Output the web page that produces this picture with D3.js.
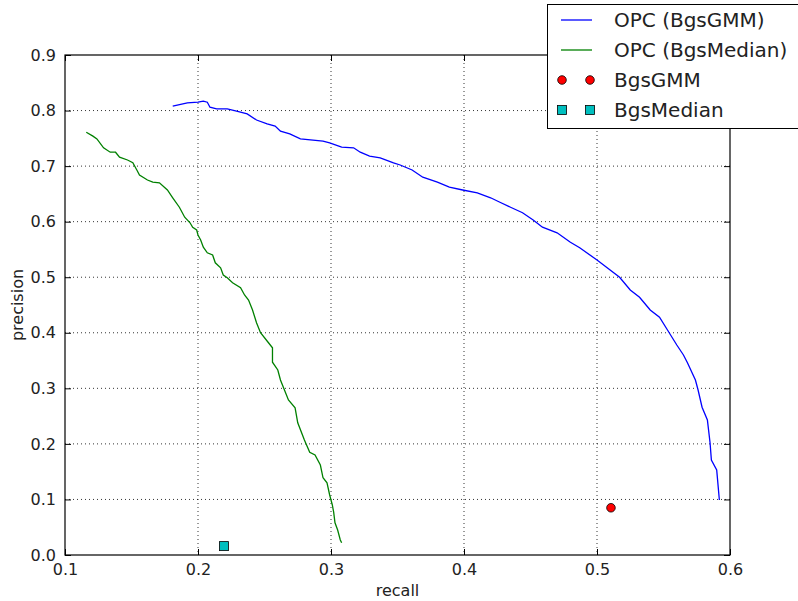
<!DOCTYPE html>
<html>
<head>
<meta charset="utf-8">
<script src="https://d3js.org/d3.v7.min.js"></script>
<style>
    body { margin: 0; background: #fff; }
    svg { font-family: "DejaVu Sans", sans-serif; }
</style>
</head>
<body>
<svg id="chart" width="798" height="601"></svg>
<script>
// OPC curve for BgsGMM  [recall, precision]
var gmmCurve = [
    [0.181, 0.808], [0.192, 0.814], [0.200, 0.815], [0.204, 0.817], [0.207, 0.815],
    [0.209, 0.806], [0.214, 0.803], [0.222, 0.803], [0.229, 0.799], [0.237, 0.794],
    [0.244, 0.783], [0.252, 0.776], [0.258, 0.772], [0.262, 0.763], [0.269, 0.758],
    [0.277, 0.749], [0.294, 0.745], [0.299, 0.742], [0.308, 0.734], [0.317, 0.733],
    [0.322, 0.725], [0.329, 0.718], [0.337, 0.715], [0.347, 0.706], [0.352, 0.702],
    [0.361, 0.693], [0.369, 0.680], [0.380, 0.671], [0.389, 0.662], [0.399, 0.657],
    [0.410, 0.652], [0.420, 0.643], [0.427, 0.635], [0.435, 0.626], [0.444, 0.616],
    [0.452, 0.603], [0.459, 0.590], [0.470, 0.580], [0.480, 0.563], [0.487, 0.553],
    [0.500, 0.531], [0.517, 0.500], [0.525, 0.477], [0.532, 0.464], [0.540, 0.441],
    [0.547, 0.428], [0.553, 0.405], [0.560, 0.378], [0.565, 0.360], [0.568, 0.346],
    [0.574, 0.315], [0.576, 0.297], [0.579, 0.266], [0.583, 0.243], [0.585, 0.202],
    [0.586, 0.171], [0.590, 0.153], [0.592, 0.099]
];

// OPC curve for BgsMedian
var medianCurve = [
    [0.116, 0.761], [0.121, 0.754], [0.124, 0.749], [0.129, 0.733], [0.134, 0.725],
    [0.138, 0.725], [0.141, 0.716], [0.147, 0.711], [0.151, 0.706], [0.154, 0.693],
    [0.156, 0.684], [0.162, 0.675], [0.166, 0.671], [0.171, 0.670], [0.177, 0.657],
    [0.181, 0.643], [0.186, 0.626], [0.190, 0.608], [0.194, 0.598], [0.196, 0.590],
    [0.199, 0.585], [0.200, 0.576], [0.202, 0.567], [0.204, 0.554], [0.207, 0.544],
    [0.211, 0.540], [0.213, 0.526], [0.217, 0.517], [0.219, 0.504], [0.222, 0.499],
    [0.226, 0.490], [0.232, 0.481], [0.235, 0.468], [0.238, 0.459], [0.241, 0.441],
    [0.244, 0.418], [0.247, 0.400], [0.253, 0.382], [0.256, 0.373], [0.256, 0.347],
    [0.260, 0.333], [0.262, 0.315], [0.265, 0.297], [0.268, 0.279], [0.273, 0.265],
    [0.275, 0.238], [0.280, 0.207], [0.284, 0.185], [0.288, 0.180], [0.292, 0.162],
    [0.294, 0.139], [0.297, 0.130], [0.299, 0.108], [0.301, 0.090], [0.302, 0.077],
    [0.303, 0.058], [0.305, 0.045], [0.307, 0.027], [0.308, 0.022]
];

// single operating points
var gmmPoint = [[0.5105, 0.085]];
var medianPoint = [[0.2195, 0.016]];

var xTicks = [0.1, 0.2, 0.3, 0.4, 0.5, 0.6];
var yTicks = [0.0, 0.1, 0.2, 0.3, 0.4, 0.5, 0.6, 0.7, 0.8, 0.9];

var legendLabels = ["OPC (BgsGMM)", "OPC (BgsMedian)", "BgsGMM", "BgsMedian"];

// plot box (note: "top" is taken by window.top)
var pLeft = 65, pRight = 730, pTop = 55, pBottom = 555;

var svg = d3.select("#chart");

var x = d3.scaleLinear().domain([0.1, 0.6]).range([pLeft, pRight]);
var y = d3.scaleLinear().domain([0, 0.9]).range([pBottom, pTop]);

// grid (dotted black)
var grid = svg.append("g");
grid.selectAll("line.gx")
    .data(xTicks.slice(1, -1))
    .enter()
    .append("line")
    .attr("x1", function (d) { return x(d); })
    .attr("x2", function (d) { return x(d); })
    .attr("y1", pTop).attr("y2", pBottom)
    .attr("stroke", "#000").attr("stroke-width", 0.8)
    .attr("stroke-dasharray", "1,3");
grid.selectAll("line.gy")
    .data(yTicks.slice(1, -1))
    .enter()
    .append("line")
    .attr("y1", function (d) { return y(d); })
    .attr("y2", function (d) { return y(d); })
    .attr("x1", pLeft).attr("x2", pRight)
    .attr("stroke", "#000").attr("stroke-width", 0.8)
    .attr("stroke-dasharray", "1,3");

// axes, ticks pointing inward on all four sides
function styleAxis(g) {
    g.select(".domain").remove();
    g.selectAll("line").attr("stroke", "#000");
    g.selectAll("text").attr("font-size", 16).attr("fill", "#222")
        .attr("font-family", "DejaVu Sans");
}
svg.append("g").attr("transform", "translate(0," + pBottom + ")")
    .call(d3.axisBottom(x).tickValues(xTicks).tickFormat(d3.format(".1f"))
        .tickSizeInner(-6).tickPadding(9))
    .call(styleAxis);
svg.append("g").attr("transform", "translate(0," + pTop + ")")
    .call(d3.axisTop(x).tickValues(xTicks).tickFormat("").tickSizeInner(-6))
    .call(styleAxis);
svg.append("g").attr("transform", "translate(" + pLeft + ",0)")
    .call(d3.axisLeft(y).tickValues(yTicks).tickFormat(d3.format(".1f"))
        .tickSizeInner(-6).tickPadding(9))
    .call(styleAxis);
svg.append("g").attr("transform", "translate(" + pRight + ",0)")
    .call(d3.axisRight(y).tickValues(yTicks).tickFormat("").tickSizeInner(-6))
    .call(styleAxis);

var line = d3.line()
    .x(function (d) { return x(d[0]); })
    .y(function (d) { return y(d[1]); });

svg.append("path").datum(gmmCurve)
    .attr("d", line).attr("fill", "none")
    .attr("stroke", "#0000ff").attr("stroke-width", 1.3);
svg.append("path").datum(medianCurve)
    .attr("d", line).attr("fill", "none")
    .attr("stroke", "#008000").attr("stroke-width", 1.3);

svg.selectAll("circle.gmm")
    .data(gmmPoint)
    .enter()
    .append("circle")
    .attr("cx", function (d) { return x(d[0]); })
    .attr("cy", function (d) { return y(d[1]); })
    .attr("r", 4.3)
    .attr("fill", "#ff0000").attr("stroke", "#000").attr("stroke-width", 0.8);
svg.selectAll("rect.med")
    .data(medianPoint)
    .enter()
    .append("rect")
    .attr("x", function (d) { return x(d[0]) - 4.5; })
    .attr("y", function (d) { return y(d[1]) - 4.5; })
    .attr("width", 9).attr("height", 9)
    .attr("fill", "#00bfbf").attr("stroke", "#000").attr("stroke-width", 0.8);

// frame
svg.append("rect")
    .attr("x", pLeft).attr("y", pTop)
    .attr("width", pRight - pLeft).attr("height", pBottom - pTop)
    .attr("fill", "none").attr("stroke", "#000").attr("stroke-width", 1.2);

// axis titles
svg.append("text").attr("x", (pLeft + pRight) / 2).attr("y", 596)
    .attr("text-anchor", "middle").attr("font-size", 16).attr("fill", "#222")
    .text("recall");
svg.append("text")
    .attr("transform", "translate(23," + ((pTop + pBottom) / 2) + ") rotate(-90)")
    .attr("text-anchor", "middle").attr("font-size", 16).attr("fill", "#222")
    .text("precision");

// legend (sticks out past the right edge, like the original)
var legend = svg.append("g");
legend.append("rect")
    .attr("x", 547.5).attr("y", 4.5)
    .attr("width", 270).attr("height", 124)
    .attr("fill", "#fff").attr("stroke", "#000").attr("stroke-width", 1);

var rowY = [20, 50, 80, 110];
legendLabels.forEach(function (label, i) {
    var yy = rowY[i];
    if (i == 0 || i == 1) {
        legend.append("line")
            .attr("x1", 561).attr("x2", 592)
            .attr("y1", yy).attr("y2", yy)
            .attr("stroke", i == 0 ? "#0000ff" : "#008000").attr("stroke-width", 1.3);
    } else if (i == 2) {
        [562, 590].forEach(function (cx) {
            legend.append("circle").attr("cx", cx).attr("cy", yy).attr("r", 4.3)
                .attr("fill", "#ff0000").attr("stroke", "#000").attr("stroke-width", 0.8);
        });
    } else {
        [562, 590].forEach(function (cx) {
            legend.append("rect").attr("x", cx - 4.5).attr("y", yy - 4.5)
                .attr("width", 9).attr("height", 9)
                .attr("fill", "#00bfbf").attr("stroke", "#000").attr("stroke-width", 0.8);
        });
    }
    legend.append("text")
        .attr("x", 614).attr("y", yy + 7)
        .attr("font-size", 20).attr("fill", "#222")
        .text(label);
});
</script>
</body>
</html>
